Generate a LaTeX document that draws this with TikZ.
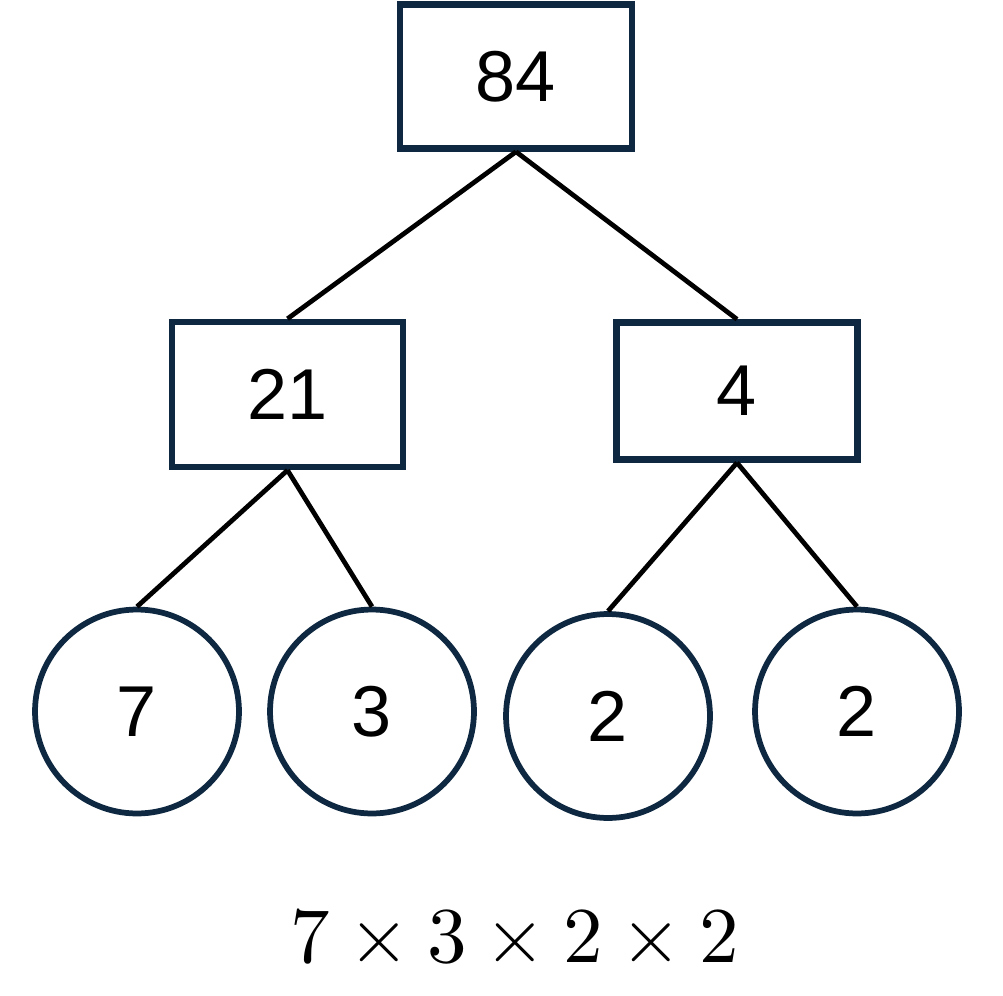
\documentclass[tikz,border=0pt]{standalone}
\usepackage{amsmath}
\usepackage{fontspec}
\usepackage{unicode-math}
\setsansfont{Liberation Sans}
\usepackage{tikz}
\usetikzlibrary{positioning,calc}
\definecolor{navy}{HTML}{0E2841}

\begin{document}
\begin{tikzpicture}[
    x=0.02cm, y=-0.02cm,
    factor/.style={rectangle, draw=navy, line width=0.13cm, minimum width=4.64cm, minimum height=2.88cm, font=\sffamily\fontsize{41}{49}\selectfont},
    prime/.style={circle, draw=navy, line width=0.115cm, minimum size=4.08cm, inner sep=0pt, font=\sffamily\fontsize{41}{49}\selectfont},
    branch/.style={line width=0.095cm, black}
]
\useasboundingbox (0,0) rectangle (1003,996);

% Layer 0: number
\node[factor] (n84) at (516,76.5) {84};

% Layer 1: factor pair
\node[factor, minimum width=4.62cm, minimum height=2.90cm] (n21) at (287.5,394.5) {21};
\node[factor, minimum width=4.82cm, minimum height=2.74cm] (n4) at (737,391) {4};

% Layer 2: primes
\node[prime] (p7) at (137,711.5) {7};
\node[prime] (p3) at (372,711.5) {3};
\node[prime] (p2a) at (608,716) {2};
\node[prime] (p2b) at (857,711.5) {2};

% Branches
\draw[branch] (n84.south) -- (n21.north);
\draw[branch] (n84.south) -- (n4.north);
\draw[branch] (n21.south) -- (p7.north);
\draw[branch] (n21.south) -- (p3.north);
\draw[branch] (n4.south) -- (p2a.north);
\draw[branch] (n4.south) -- (p2b.north);

% Product
\node[font=\fontsize{45}{54}\selectfont] (prod) at (515,936.5) {$7 \times 3 \times 2 \times 2$};
\end{tikzpicture}
\end{document}
